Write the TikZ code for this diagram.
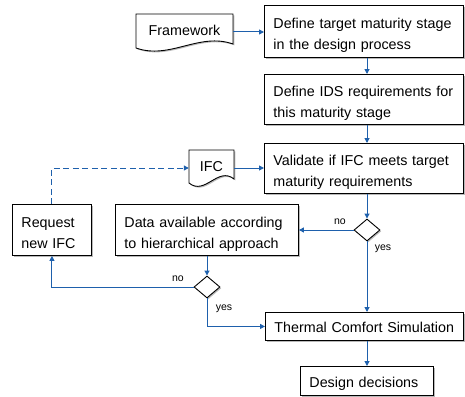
\documentclass[tikz,border=0pt]{standalone}
\usepackage{fontspec}
\setmainfont{Liberation Sans}
\usetikzlibrary{arrows.meta,shapes.geometric,shadows,calc}
\definecolor{flow}{RGB}{30,96,172}
\begin{document}
\begin{tikzpicture}[x=1pt,y=-1pt,
  shad/.style={drop shadow={shadow xshift=1.3pt, shadow yshift=-1.3pt, fill=black!50, opacity=0.55}},
  box/.style={draw=black, line width=0.9pt, fill=white, anchor=north west, inner xsep=9pt, inner ysep=0pt, align=left, font=\fontsize{14.3}{21}\selectfont, shad},
  tdown/.style={execute at begin node={\rule{0pt}{#1}}},
  docshape/.style={draw=black, line width=0.9pt, fill=white, shad},
  doctext/.style={inner sep=0pt, font=\fontsize{14.3}{21}\selectfont},
  arr/.style={draw=flow, line width=1pt, -{Triangle[length=5pt,width=5pt]}},
  lab/.style={font=\fontsize{10.5}{12}\selectfont},
  dec/.style={diamond, draw=black, line width=0.9pt, fill=white, minimum width=26pt, minimum height=22pt, inner sep=0pt, shad},
]
\useasboundingbox (0,0) rectangle (465,396);

% document shapes
\path[docshape] (136,14) -- (233,14) -- (233,44) .. controls (199,32) and (170,60) .. (136,48) -- cycle;
\node[doctext, minimum width=97pt, minimum height=30pt] (fw) at (184.5,30.5) {Framework};
\path[docshape] (189,150) -- (234,150) -- (234,179) .. controls (218,166) and (205,196) .. (189,183) -- cycle;
\node[doctext, minimum width=45pt, minimum height=30pt] (ifc) at (211.5,166.5) {IFC};

% process boxes
\node[box, tdown=18.4pt, text width=181pt, minimum height=52pt] (b1) at (264,5) {Define target maturity stage\\in the design process};
\node[box, tdown=18.4pt, text width=181pt, minimum height=50pt] (b2) at (264,74) {Define IDS requirements for\\this maturity stage};
\node[box, tdown=18.4pt, text width=181pt, minimum height=50pt] (b3) at (264,143) {Validate if IFC meets target\\maturity requirements};
\node[box, tdown=15.4pt, text width=61pt, minimum height=51pt] (req) at (12,204) {Request\\new IFC};
\node[box, tdown=18.4pt, text width=165pt, minimum height=51pt] (data) at (115,204) {Data available according\\to hierarchical approach};
\node[box, tdown=11.4pt, text width=180pt, minimum height=28pt] (therm) at (265,312) {Thermal Comfort Simulation};
\node[box, tdown=15.4pt, text width=115pt, minimum height=29pt] (des) at (300,366) {Design decisions};

% decisions
\node[dec] (d1) at (367,230) {};
\node[dec] (d2) at (207,287) {};

% connectors
\draw[arr] (fw.east |- 0,32) -- (b1.west |- 0,32);
\draw[arr] (b1.south -| d1) -- (b2.north -| d1);
\draw[arr] (b2.south -| d1) -- (b3.north -| d1);
\draw[arr] (ifc.east |- 0,168) -- (b3.west |- 0,168);
\draw[arr, dash pattern=on 6pt off 3.5pt] (req.north) |- (ifc.west |- 0,168);
\draw[arr] (b3.south -| d1) -- (d1.north);
\draw[arr] (d1.west) -- (data.east |- d1) node[lab, pos=0.25, above=2pt] {no};
\draw[arr] (d1.south) -- (therm.north -| d1) node[lab, pos=0.11, right=4pt] {yes};
\draw[arr] (data.south -| d2) -- (d2.north);
\draw[arr] (d2.west) -| (req.south) node[lab, pos=0.055, above=2pt] {no};
\draw[arr] (d2.south) |- (therm.west) node[lab, pos=0.185, right=5pt] {yes};
\draw[arr] (therm.south -| d1) -- (des.north -| d1);
\end{tikzpicture}
\end{document}
